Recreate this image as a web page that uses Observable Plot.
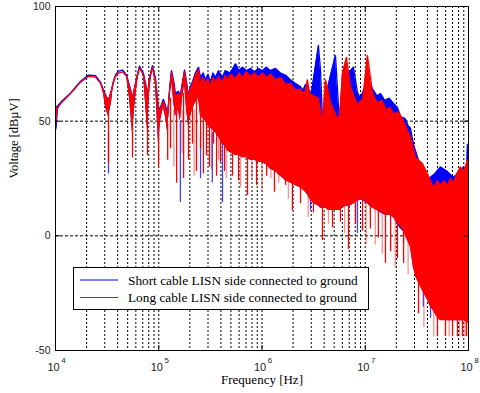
<!DOCTYPE html>
<html><head><meta charset="utf-8">
<script src="https://cdn.jsdelivr.net/npm/d3@7"></script>
<script src="https://cdn.jsdelivr.net/npm/@observablehq/plot@0.6"></script>
<style>body{margin:0;background:#fff} svg{display:block}</style>
</head><body><div id="chart"></div>
<script>
// ---- data ----
// band rows: [frequency Hz, upper envelope dBµV, lower envelope dBµV]
const blueBand = [
[1.00e4,56,44],[1.04e4,56.5,47],[1.07e4,57,55],[1.17e4,59,59],[1.40e4,62.3,62.3],[1.75e4,67.4,67.4],[2.09e4,70.1,70.1],[2.44e4,69.8,69.8],[2.73e4,67,67],[2.92e4,63.5,62],[3.05e4,61.5,56],[3.26e4,59,52],[3.49e4,63.5,58],[3.65e4,67.6,67.6],[3.81e4,70.2,70.2],[4.08e4,71.8,71.8],[4.46e4,72.3,72.3],[4.87e4,70.1,70.1],[5.21e4,65.5,60],[5.57e4,60,45],[5.96e4,66.5,60],[6.51e4,74,74],[7.11e4,70.8,70.8],[7.44e4,66.5,58],[7.78e4,61,46],[8.13e4,68.5,62],[8.69e4,74.2,74.2],[9.30e4,68.5,66],[9.95e4,55,40],[1.04e5,56,50],[1.11e5,59.5,56],[1.16e5,57,52],[1.22e5,53,45],[1.28e5,65,60],[1.33e5,72,68],[1.40e5,67,58],[1.45e5,62,52],[1.55e5,63,55],[1.62e5,61,50],[1.70e5,67,60],[1.78e5,72.3,66],[1.86e5,67,55],[1.94e5,61,48],[2.03e5,65,52],[2.12e5,67,55],[2.27e5,71,58],[2.43e5,73.5,60],[2.54e5,69,52],[2.70e5,71,51],[2.84e5,68,50],[3.00e5,70.5,48],[3.17e5,67,47],[3.35e5,71,46],[3.55e5,69,45],[3.80e5,72,43],[4.14e5,69,40],[4.40e5,72,39],[4.95e5,71,37],[5.54e5,75,35],[6.00e5,72,35],[6.47e5,73.5,34],[7.10e5,72,34],[7.74e5,73,33],[8.50e5,71.5,33],[9.20e5,73,32],[1.01e6,72,32],[1.10e6,73.5,31],[1.21e6,72,29],[1.35e6,73,28],[1.51e6,71,26],[1.70e6,70,24],[1.89e6,68,23],[2.10e6,66.5,22],[2.36e6,65,21],[2.50e6,63.5,20],[2.64e6,66,19],[3.00e6,62,16],[3.24e6,72,14],[3.52e6,83,13],[3.69e6,72,12],[3.85e6,51,12],[4.20e6,62,12],[4.61e6,70,11],[5.15e6,78.6,11],[5.60e6,51,11],[6.02e6,63,12],[6.58e6,72,13],[7.19e6,72,13],[7.69e6,73.5,14],[8.41e6,62.5,15],[9.00e6,60,16],[1.05e7,68,14],[1.18e7,64,12],[1.30e7,61,11],[1.41e7,62,10],[1.55e7,59,9],[1.70e7,60,9],[1.88e7,57.7,8],[2.05e7,56,5],[2.20e7,52,3],[2.45e7,51,1],[2.60e7,48,-2],[2.74e7,47,-5],[2.93e7,40,-14],[3.43e7,30,-22],[4.01e7,24,-28],[4.29e7,25.5,-31],[4.70e7,27,-33],[5.36e7,30,-36],[6.26e7,28,-37],[7.16e7,25.5,-37],[8.37e7,28,-37],[8.96e7,30,-37],[9.60e7,28,-37],[9.78e7,40,-38],[1.00e8,38,-38]
];
const redBand = [
[1.00e4,55,46],[1.04e4,55.8,50],[1.07e4,56.5,56.5],[1.17e4,58.5,58.5],[1.40e4,62,62],[1.75e4,67,67],[2.09e4,69.5,69.5],[2.44e4,69.2,69.2],[2.73e4,66.5,66.5],[2.92e4,63,62],[3.05e4,61,56],[3.26e4,59,52],[3.49e4,63,58],[3.65e4,67,67],[3.81e4,69.5,69.5],[4.08e4,71,71],[4.46e4,71.5,71.5],[4.87e4,69.5,69.5],[5.21e4,65,60],[5.57e4,60,45],[5.96e4,66,60],[6.51e4,73.2,73.2],[7.11e4,70,70],[7.44e4,66,58],[7.78e4,61,46],[8.13e4,68,62],[8.69e4,73.4,73.4],[9.30e4,68,66],[9.95e4,55,40],[1.04e5,55,50],[1.11e5,58.5,56],[1.16e5,56,52],[1.22e5,52,45],[1.28e5,64,60],[1.33e5,71,68],[1.40e5,66,58],[1.45e5,61,52],[1.55e5,62,55],[1.62e5,60,50],[1.70e5,66,60],[1.78e5,71.5,66],[1.86e5,66,55],[1.94e5,60,48],[2.03e5,64,52],[2.12e5,66,55],[2.27e5,70,58],[2.43e5,72.5,60],[2.54e5,66,52],[2.70e5,69,51],[2.84e5,66,50],[3.00e5,68.5,48],[3.17e5,65,47],[3.35e5,69,46],[3.55e5,67,45],[3.80e5,69.5,43],[4.14e5,66.5,40],[4.40e5,70,39],[4.63e5,68,37],[5.00e5,70.5,36],[5.54e5,68.5,35],[6.00e5,71,35],[6.47e5,69,34],[7.10e5,71.5,34],[7.74e5,69.5,33],[8.50e5,71,33],[9.20e5,69,32],[1.01e6,71,32],[1.10e6,69,31],[1.21e6,70.5,29],[1.35e6,68,28],[1.51e6,69,26],[1.70e6,66,24],[1.89e6,66.5,23],[2.10e6,63.5,22],[2.36e6,64,21],[2.50e6,62,20],[2.64e6,63,19],[2.75e6,68,18],[2.90e6,62,16],[3.17e6,61,14],[3.52e6,60,13],[3.85e6,49,12],[4.12e6,68,12],[4.40e6,63,11],[4.61e6,58,11],[5.27e6,52,11],[5.63e6,51,11],[6.02e6,71,12],[6.58e6,77.8,13],[7.19e6,65,13],[8.41e6,57,15],[9.50e6,60,16],[1.05e7,78.6,14],[1.18e7,62,12],[1.30e7,58,11],[1.45e7,59,10],[1.60e7,55,9],[1.75e7,56,9],[1.88e7,53,8],[2.10e7,54,5],[2.35e7,50,2],[2.50e7,47,-1],[2.74e7,43,-5],[2.93e7,38,-14],[3.07e7,34,-18],[3.58e7,31.5,-24],[4.01e7,27,-28],[4.29e7,24,-31],[4.60e7,21,-33],[5.01e7,24,-36],[5.36e7,22,-37],[5.80e7,24,-37],[6.26e7,22,-37],[6.70e7,25,-37],[7.16e7,23,-37],[7.70e7,27,-37],[8.37e7,30,-37],[9.00e7,28,-37],[9.78e7,33,-38],[1.00e8,31,-38]
];
// spike rows: [frequency Hz, bottom dBµV, top dBµV]
const blueSpikes = [
[3.26e4,27,45],[1.62e5,14.5,50],[2.54e5,25,45],[3.30e5,23,45],[4.14e5,14.5,40],[2.95e6,11,25],[8.40e6,1,15],[2.35e7,-3,5],[3.65e7,-31,-20],[4.29e7,-36,-25]
];
const redSpikes = [
[3.26e4,31.5,55],[5.57e4,34,52],[7.78e4,35,55],[9.95e4,30,52],[1.22e5,33,50],[1.30e5,38,60],[1.49e5,23,58],[1.74e5,25,62],[1.94e5,33,58],[2.12e5,40,62],[2.32e5,28,62],[2.54e5,38,60],[2.71e5,27,60],[2.90e5,35,60],[3.10e5,30,60],[3.39e5,40,60],[3.63e5,26,60],[3.96e5,32,60],[4.33e5,28,60],[5.18e5,26,45],[5.92e5,24,45],[7.24e5,17.6,40],[8.85e5,22,40],[1.11e6,26,40],[1.32e6,19,35],[1.69e6,22,35],[1.97e6,11,30],[2.36e6,14,30],[3.15e6,10,25],[3.85e6,-2,20],[4.82e6,3.6,20],[5.75e6,6,20],[6.88e6,-6,20],[8.05e6,5,20],[9.40e6,2,20],[1.12e7,3,20],[1.34e7,-1,15],[1.57e7,-12,15],[1.76e7,-7,15],[2.05e7,-10,10],[2.35e7,-12,5],[3.28e7,-34,-15],[5.01e7,-44,-30],[5.98e7,-44,-30],[7.00e7,-44,-30],[7.82e7,-44,-30],[8.75e7,-44,-30],[9.57e7,-44,-30]
];
const redFaintSpikes = [
[1.40e5,30,55],[1.68e5,36,55],[2.20e5,26,55],[3.25e5,29,55],[3.80e5,33,55],[4.50e5,25,50],[6.20e5,21,45],[8.00e5,25,40],[1.00e6,20,40],[1.22e6,25,40],[1.45e6,23,35],[1.80e6,16,35],[2.80e6,8,25],[4.40e6,5,20],[6.30e6,1,20],[1.02e7,-4,15],[1.25e7,-4,15],[1.46e7,-8,15],[1.95e7,-14,10],[2.60e7,-17,0],[3.70e7,-40,-25],[4.60e7,-44,-30],[6.50e7,-44,-30],[8.20e7,-44,-30],[9.30e7,-44,-30]
];
const gridFreqs = [2e4,3e4,4e4,5e4,6e4,7e4,8e4,9e4,1e5,2e5,3e5,4e5,5e5,6e5,7e5,8e5,9e5,1e6,2e6,3e6,4e6,5e6,6e6,7e6,8e6,9e6,1e7,2e7,3e7,4e7,5e7,6e7,7e7,8e7,9e7];
const gridVolts = [0, 50];
const xDecades = [1e4, 1e5, 1e6, 1e7, 1e8];
const xExponents = ["4", "5", "6", "7", "8"];
const yTicks = [-50, 0, 50, 100];
const seriesNames = ["Short cable LISN side connected to ground", "Long cable LISN side connected to ground"];
const seriesColors = ["#0000ff", "#ff0000"];
const xTitle = "Frequency [Hz]";
const yTitle = "Voltage [dBµV]";

// ---- build tables ----
const band = rows => rows.map(([f, hi, lo]) => ({f, hi, lo}));
const spikes = rows => rows.map(([f, lo, hi]) => ({f, lo, hi}));
const blue = band(blueBand), red = band(redBand);
const decadeRows = xDecades.map((d, i) => ({d, e: xExponents[i]}));

const W = 480, H = 393, mL = 55, mR = 12, mT = 6, mB = 43;
const pw = W - mL - mR, ph = H - mT - mB;
const sans = "Liberation Sans, Arial, sans-serif";
const serif = "Liberation Serif, Times New Roman, serif";

const plot = Plot.plot({
  width: W, height: H, marginLeft: mL, marginRight: mR, marginTop: mT, marginBottom: mB,
  x: {type: "log", domain: [1e4, 1e8], axis: null},
  y: {domain: [-50, 100], axis: null},
  style: {background: "white", overflow: "visible"},
  marks: [
    Plot.ruleX(gridFreqs, {stroke: "black", strokeDasharray: "2,2", strokeWidth: 1}),
    Plot.ruleY(gridVolts, {stroke: "black", strokeDasharray: "3,2", strokeWidth: 1}),
    Plot.areaY(blue, {x: "f", y1: "lo", y2: "hi", fill: seriesColors[0], clip: true}),
    Plot.line(blue, {x: "f", y: "hi", stroke: seriesColors[0], strokeWidth: 1.3, clip: true}),
    Plot.ruleX(spikes(blueSpikes), {x: "f", y1: "lo", y2: "hi", stroke: seriesColors[0], strokeWidth: 1.3, strokeOpacity: 0.75}),
    Plot.areaY(red, {x: "f", y1: "lo", y2: "hi", fill: seriesColors[1], clip: true}),
    Plot.line(red, {x: "f", y: "hi", stroke: seriesColors[1], strokeWidth: 1.3, clip: true}),
    Plot.ruleX(spikes(redSpikes), {x: "f", y1: "lo", y2: "hi", stroke: seriesColors[1], strokeWidth: 1.3}),
    Plot.ruleX(spikes(redFaintSpikes), {x: "f", y1: "lo", y2: "hi", stroke: seriesColors[1], strokeWidth: 1.3, strokeOpacity: 0.45}),
    Plot.frame({stroke: "black", strokeWidth: 1}),
    Plot.ruleX(xDecades, {stroke: "black", insetTop: ph - 5}),
    Plot.ruleX(xDecades, {stroke: "black", insetBottom: ph - 5}),
    Plot.ruleY(yTicks, {stroke: "black", insetRight: pw - 5}),
    Plot.ruleY(yTicks, {stroke: "black", insetLeft: pw - 5}),
    Plot.text(yTicks, {x: 1e4, y: d => d, text: d => String(d), textAnchor: "end", dx: -5, fontSize: 10.5, fontFamily: sans, fill: "#222"}),
    Plot.text(decadeRows, {x: "d", y: -50, text: () => "10", dx: -2, dy: 17, fontSize: 11, fontFamily: sans, fill: "#222"}),
    Plot.text(decadeRows, {x: "d", y: -50, text: "e", dx: 8, dy: 10, fontSize: 8, fontFamily: sans, fill: "#222"}),
    Plot.text([xTitle], {frameAnchor: "bottom", dy: 33, fontSize: 13, fontFamily: serif, fill: "black"}),
    Plot.text([yTitle], {frameAnchor: "left", dx: -42, rotate: -90, fontSize: 12.5, fontFamily: serif, fill: "black"})
  ]
});
document.getElementById("chart").appendChild(plot);

// ---- legend box ----
const svg = d3.select(plot);
const lg = svg.append("g");
lg.append("rect").attr("x", 73.5).attr("y", 267.5).attr("width", 295).attr("height", 42)
  .attr("fill", "white").attr("stroke", "black").attr("stroke-width", 1);
seriesNames.forEach((name, i) => {
  const cy = 280 + i * 17.5;
  lg.append("line").attr("x1", 80).attr("x2", 118).attr("y1", cy).attr("y2", cy)
    .attr("stroke", seriesColors[i]).attr("stroke-width", 1.2);
  lg.append("text").attr("x", 128).attr("y", cy).attr("dy", "0.35em")
    .attr("text-anchor", "start")
    .attr("font-family", serif).attr("font-size", 13.3).attr("fill", "black").text(name);
});
</script>
</body></html>
